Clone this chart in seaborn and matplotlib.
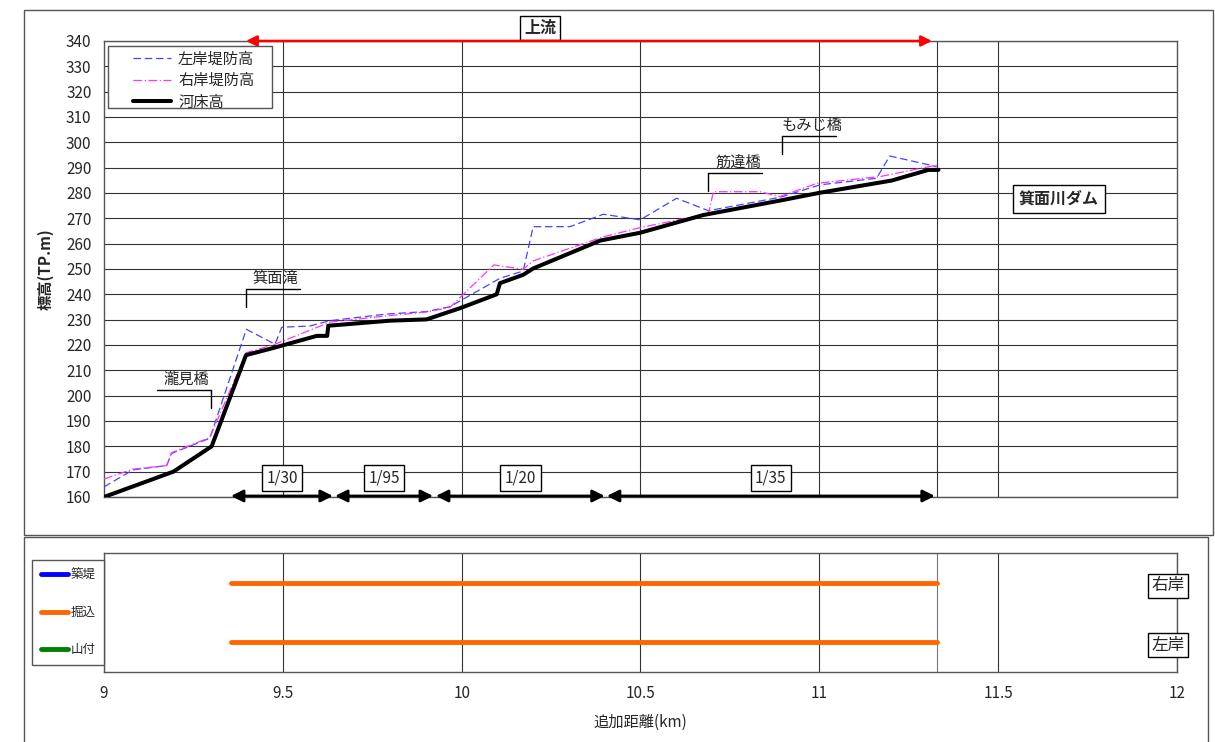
import numpy as np
import pandas as pd
import matplotlib
matplotlib.use("Agg")
import matplotlib.pyplot as plt
from matplotlib.lines import Line2D
from matplotlib.patches import Rectangle
import seaborn as sns

# 河床高 (追加距離 km, 標高 TP.m)
bed_km = [9.0, 9.194, 9.301, 9.397, 9.473, 9.595, 9.624, 9.627, 9.688, 9.80, 9.902,
          9.995, 10.098, 10.107, 10.172, 10.20, 10.387, 10.499, 10.676, 10.890,
          11.002, 11.202, 11.305, 11.333]
bed_el = [160.0, 170.0, 180.0, 216.0, 218.8, 223.6, 223.6, 227.6, 228.3, 229.6, 230.1,
          234.5, 240.0, 244.4, 247.7, 250.2, 261.2, 264.3, 271.3, 277.0,
          280.1, 284.9, 289.1, 289.1]

# 左岸堤防高
left_km = [9.0, 9.081, 9.175, 9.189, 9.296, 9.398, 9.478, 9.497, 9.576, 9.632, 9.79,
           9.902, 9.967, 10.107, 10.172, 10.20, 10.303, 10.396, 10.499, 10.601, 10.690,
           10.890, 11.002, 11.160, 11.197, 11.328]
left_el = [164.0, 170.7, 172.4, 177.2, 183.2, 226.2, 220.3, 227.0, 227.5, 229.6, 232.2,
           233.2, 235.1, 246.3, 249.2, 266.7, 266.7, 271.6, 269.4, 277.9, 273.0,
           278.3, 283.2, 285.8, 294.6, 290.4]

# 右岸堤防高
right_km = [9.0, 9.081, 9.175, 9.189, 9.296, 9.398, 9.473, 9.632, 9.79, 9.902, 9.967,
            10.09, 10.172, 10.20, 10.396, 10.499, 10.67, 10.69, 10.704, 10.834, 10.890,
            10.993, 11.171, 11.328]
right_el = [167.1, 171.0, 172.4, 177.5, 183.5, 217.0, 220.0, 229.0, 231.5, 233.0, 234.8,
            251.6, 249.9, 253.2, 262.7, 266.3, 271.3, 272.0, 280.5, 280.5, 278.6,
            283.8, 286.5, 291.0]

# 河床勾配区間
slope_labels = ["1/30", "1/95", "1/20", "1/35"]
slope_start = [9.355, 9.646, 9.928, 10.406]
slope_end = [9.640, 9.920, 10.400, 11.323]

# 構造物
bridge_names = ["瀧見橋", "箕面滝", "筋違橋", "もみじ橋"]
bridge_km = [9.299, 9.397, 10.689, 10.896]
bridge_el = [195.1, 235.0, 280.8, 295.4]

# 護岸形式 (下段)
bank_names = ["右岸", "左岸"]
bank_type = ["掘込", "掘込"]
bank_start = [9.355, 9.355]
bank_end = [11.33, 11.33]
type_names = ["築堤", "掘込", "山付"]
type_colors = ["#0000ff", "#ff6600", "#008000"]

dam_km = 11.33
upstream_start, upstream_end = 9.397, 11.315

sns.set_style("white")
plt.rcParams["font.family"] = ["Noto Sans CJK JP", "DejaVu Sans"]
plt.rcParams["axes.unicode_minus"] = False

fig = plt.figure(figsize=(12.15, 7.42), dpi=100)
ax = fig.add_axes([0.0856, 0.3302, 0.8831, 0.6146])
ax2 = fig.add_axes([0.0856, 0.0943, 0.8831, 0.1604])

# 外枠
fig.add_artist(Rectangle((24 / 1215, 1 - 535 / 742), 1189 / 1215, 525 / 742,
                         transform=fig.transFigure, fill=False, ec="#555555", lw=1))
fig.add_artist(Rectangle((24 / 1215, -0.01), 1184 / 1215, 205 / 742 + 0.01,
                         transform=fig.transFigure, fill=False, ec="#555555", lw=1))

df_left = pd.DataFrame({"km": left_km, "el": left_el})
df_right = pd.DataFrame({"km": right_km, "el": right_el})
df_bed = pd.DataFrame({"km": bed_km, "el": bed_el})

left_style = dict(color="#4444ff", lw=0.9, linestyle=(0, (6, 3)))
right_style = dict(color="#ff33ff", lw=0.9, linestyle=(0, (7, 2, 1, 2)))
bed_style = dict(color="black", lw=2.9)

sns.lineplot(data=df_left, x="km", y="el", ax=ax, estimator=None, sort=False,
             zorder=4, **left_style)
sns.lineplot(data=df_right, x="km", y="el", ax=ax, estimator=None, sort=False,
             zorder=4, **right_style)
sns.lineplot(data=df_bed, x="km", y="el", ax=ax, estimator=None, sort=False,
             zorder=5, **bed_style)

ax.set_xlim(9, 12)
ax.set_ylim(160, 340)
ax.set_yticks(np.arange(160, 341, 10))
ax.set_xticks([9.5, 10, 10.5, 11, 11.5])
ax.tick_params(axis="x", labelbottom=False, length=0)
ax.tick_params(axis="y", length=0, pad=9, labelsize=11)
ax.grid(True, color="#333333", lw=0.8)
ax.axvline(dam_km, color="#333333", lw=0.8, zorder=1)
ax.set_xlabel("")
ax.set_ylabel("標高(TP.m)", fontsize=11, fontweight="bold")
ax.yaxis.set_label_coords(-0.047, 0.5)
for s in ax.spines.values():
    s.set_color("#555555")
    s.set_linewidth(1)

# 凡例 (枠は別に描く)
ax.add_patch(Rectangle((0.0037, 0.853), 0.1528, 0.136, transform=ax.transAxes,
                       fc="white", ec="#555555", lw=1, zorder=8))
handles = [Line2D([], [], **left_style), Line2D([], [], **right_style),
           Line2D([], [], **bed_style)]
leg = ax.legend(handles, ["左岸堤防高", "右岸堤防高", "河床高"], loc="upper left",
                bbox_to_anchor=(0.027, 0.979), fontsize=11, frameon=False,
                handlelength=2.5, borderpad=0, borderaxespad=0,
                labelspacing=0.3, handletextpad=0.45)
leg.set_zorder(10)

# 上流
ax.annotate("", xy=(upstream_start, 340), xytext=(upstream_end, 340),
            arrowprops=dict(arrowstyle="<|-|>", color="red", lw=1.8,
                            mutation_scale=16, shrinkA=0, shrinkB=0),
            annotation_clip=False, zorder=6)
ax.text(10.219, 345.2, "上流", ha="center", va="center", fontsize=11.5, fontweight="bold",
        clip_on=False,
        bbox=dict(boxstyle="square,pad=0.25", fc="white", ec="black", lw=1))

ax.text(11.67, 277.6, "箕面川ダム", ha="center", va="center", fontsize=11.5,
        fontweight="bold",
        bbox=dict(boxstyle="square,pad=0.35", fc="white", ec="black", lw=1))

# 勾配
for lab, x0, x1 in zip(slope_labels, slope_start, slope_end):
    ax.annotate("", xy=(x0, 160.4), xytext=(x1, 160.4),
                arrowprops=dict(arrowstyle="<|-|>", color="black", lw=2,
                                mutation_scale=18, shrinkA=0, shrinkB=0),
                annotation_clip=False, zorder=6)
    ax.text((x0 + x1) / 2, 167.6, lab, ha="center", va="center", fontsize=11,
            bbox=dict(boxstyle="square,pad=0.3", fc="white", ec="black", lw=1), zorder=7)

# 橋・滝の引出線
for name, bx, by in zip(bridge_names, bridge_km, bridge_el):
    if name == "瀧見橋":
        hx0, hx1 = bx - 0.151, bx
    else:
        hx0, hx1 = bx, bx + 0.151
    top = by + 7.1
    ax.plot([hx0, hx1], [top, top], color="black", lw=1, zorder=6)
    ax.plot([bx, bx], [top, by], color="black", lw=1, zorder=6)
    ax.text((hx0 + hx1) / 2 + 0.008, top + 0.8, name, ha="center", va="bottom",
            fontsize=11, zorder=7)

# 下段: 護岸形式
bank_y = {"右岸": 3, "左岸": 1}
for b, t, x0, x1 in zip(bank_names, bank_type, bank_start, bank_end):
    ax2.hlines(bank_y[b], x0, x1, color=type_colors[type_names.index(t)], lw=3.5,
               capstyle="round", zorder=4)
    ax2.text(11.975, bank_y[b] - 0.1, b, ha="center", va="center", fontsize=12, zorder=6,
             bbox=dict(boxstyle="square,pad=0.2", fc="white", ec="black", lw=1))

ax2.set_xlim(9, 12)
ax2.set_ylim(0, 4)
ax2.set_yticks([])
ax2.set_xticks([9, 9.5, 10, 10.5, 11, 11.5, 12])
ax2.set_xticklabels(["9", "9.5", "10", "10.5", "11", "11.5", "12"])
ax2.tick_params(axis="x", length=0, pad=9, labelsize=11)
ax2.xaxis.grid(True, color="#333333", lw=0.8)
ax2.axvline(dam_km, color="#777777", lw=0.8, zorder=1)
ax2.set_xlabel("追加距離(km)", fontsize=11)
ax2.xaxis.set_label_coords(0.5, -0.35)
for s in ax2.spines.values():
    s.set_color("#555555")
    s.set_linewidth(1)

h2 = [Line2D([], [], color=c, lw=3.5, solid_capstyle="round") for c in type_colors]
leg2 = ax2.legend(h2, type_names, loc="center right", bbox_to_anchor=(0, 0.5),
                  borderaxespad=0, fontsize=9, frameon=True, fancybox=False,
                  edgecolor="#555555", framealpha=1, handlelength=2.2,
                  handletextpad=0.15, labelspacing=1.95, borderpad=0.7)
leg2.get_frame().set_linewidth(1)

fig.savefig("out.png", dpi=100)
